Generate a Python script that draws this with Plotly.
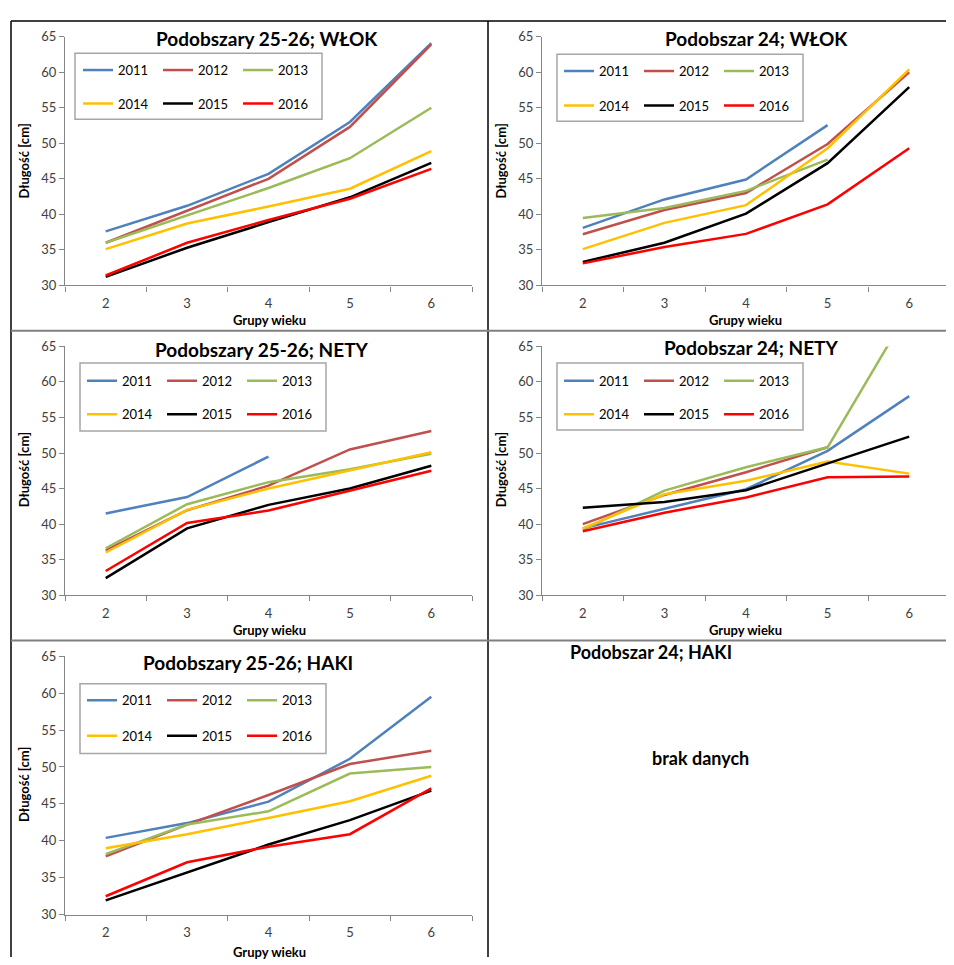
import plotly.graph_objects as go

# ---------------- data ----------------
age_groups = [2, 3, 4, 5, 6]
years = ["2011", "2012", "2013", "2014", "2015", "2016"]
year_colors = ["#4F81BD", "#C0504D", "#9BBB59", "#FFC000", "#000000", "#FF0000"]

# Podobszary 25-26; WŁOK
wlok_2526_2011 = [37.6, 41.2, 45.7, 53.0, 64.1]
wlok_2526_2012 = [36.0, 40.5, 45.0, 52.3, 63.9]
wlok_2526_2013 = [36.0, 39.9, 43.7, 47.9, 55.0]
wlok_2526_2014 = [35.1, 38.7, 41.1, 43.6, 48.9]
wlok_2526_2015 = [31.2, 35.3, 38.9, 42.4, 47.25]
wlok_2526_2016 = [31.4, 36.0, 39.2, 42.2, 46.4]

# Podobszar 24; WŁOK
wlok_24_2011 = [38.1, 42.1, 44.9, 52.55, None]
wlok_24_2012 = [37.2, 40.6, 43.0, 49.9, 60.0]
wlok_24_2013 = [39.5, 40.9, 43.3, 47.7, None]
wlok_24_2014 = [35.1, 38.8, 41.3, 49.3, 60.4]
wlok_24_2015 = [33.3, 36.0, 40.1, 47.2, 57.9]
wlok_24_2016 = [33.1, 35.4, 37.25, 41.4, 49.3]

# Podobszary 25-26; NETY
nety_2526_2011 = [41.5, 43.8, 49.5, None, None]
nety_2526_2012 = [36.3, 41.95, 45.4, 50.5, 53.1]
nety_2526_2013 = [36.6, 42.8, 45.9, 47.7, 49.9]
nety_2526_2014 = [36.0, 42.0, 45.0, 47.6, 50.1]
nety_2526_2015 = [32.4, 39.4, 42.7, 45.0, 48.2]
nety_2526_2016 = [33.4, 40.15, 41.9, 44.7, 47.5]

# Podobszar 24; NETY
nety_24_2011 = [39.4, 42.2, 44.9, 50.3, 58.0]
nety_24_2012 = [40.0, 44.1, 47.3, 50.8, None]
nety_24_2013 = [39.2, 44.7, 48.0, 50.8, 70.2]
nety_24_2014 = [39.4, 44.2, 46.1, 48.8, 47.1]
nety_24_2015 = [42.3, 43.1, 44.75, 48.5, 52.3]
nety_24_2016 = [39.0, 41.6, 43.75, 46.6, 46.7]

# Podobszary 25-26; HAKI
haki_2526_2011 = [40.4, 42.4, 45.3, 51.1, 59.5]
haki_2526_2012 = [37.9, 42.2, 46.2, 50.4, 52.2]
haki_2526_2013 = [38.2, 42.2, 44.0, 49.1, 50.0]
haki_2526_2014 = [39.0, 40.9, 43.1, 45.35, 48.8]
haki_2526_2015 = [31.95, 35.7, 39.5, 42.8, 46.8]
haki_2526_2016 = [32.5, 37.1, 39.2, 40.9, 47.1]

panel_titles = ["Podobszary 25-26; WŁOK", "Podobszar 24; WŁOK",
                "Podobszary 25-26; NETY", "Podobszar 24; NETY",
                "Podobszary 25-26; HAKI"]
panel_series = [
    [wlok_2526_2011, wlok_2526_2012, wlok_2526_2013, wlok_2526_2014, wlok_2526_2015, wlok_2526_2016],
    [wlok_24_2011, wlok_24_2012, wlok_24_2013, wlok_24_2014, wlok_24_2015, wlok_24_2016],
    [nety_2526_2011, nety_2526_2012, nety_2526_2013, nety_2526_2014, nety_2526_2015, nety_2526_2016],
    [nety_24_2011, nety_24_2012, nety_24_2013, nety_24_2014, nety_24_2015, nety_24_2016],
    [haki_2526_2011, haki_2526_2012, haki_2526_2013, haki_2526_2014, haki_2526_2015, haki_2526_2016],
]
empty_title = "Podobszar 24; HAKI"
empty_text = "brak danych"
x_title = "Grupy wieku"
y_title = "Długość [cm]"

# ---------------- layout geometry (page pixels) ----------------
PAGE_OFF = 8            # default body margin of the html page
W, H = 954 - PAGE_OFF, 965 - PAGE_OFF   # figure reaches the window edges
FONT = "Lato, 'Open Sans', sans-serif"


def fx(p):
    return (p - PAGE_OFF) / W


def fy(p):
    return 1 - (p - PAGE_OFF) / H


# plot areas: (x0, x1, ytop, ybottom)
areas = [(65, 472, 29, 282), (542, 950, 29, 282),
         (65, 472, 344, 597), (542, 950, 344, 597),
         (65, 472, 659, 922)]
title_pos = [(267, 31), (756, 31), (262, 347), (751, 345), (248, 666)]
xtitle_pos = [(269, 317), (745, 317), (269, 632), (745, 632), (269, 960)]
ytitle_pos = [(24, 156), (501, 156), (24, 470), (501, 470), (24, 790)]
legend_box = [(75, 322, 46, 113), (557, 803, 47, 115),
              (80, 326, 361, 430), (557, 803, 361, 429),
              (80, 326, 687, 758)]
legend_rows = [(63, 97), (64, 99), (379, 413), (379, 413), (704, 740)]
legend_x0 = [78, 559, 82, 559, 82]

fig = go.Figure()
annotations = []
shapes = []
layout_extra = {}

axis_gray = "#868686"
tick_font = dict(family=FONT, size=13, color="#404040")

for i in range(5):
    x0, x1, yt, yb = areas[i]
    xa = "xaxis" if i == 0 else f"xaxis{i+1}"
    ya = "yaxis" if i == 0 else f"yaxis{i+1}"
    xr = "x" if i == 0 else f"x{i+1}"
    yr = "y" if i == 0 else f"y{i+1}"
    leg_a = "legend" if i == 0 else f"legend{2*i+1}"
    leg_b = f"legend{2*i+2}"

    for k, (yr_name, col) in enumerate(zip(years, year_colors)):
        fig.add_trace(go.Scatter(
            x=age_groups, y=panel_series[i][k], mode="lines", name=yr_name,
            line=dict(color=col, width=2.5), xaxis=xr, yaxis=yr,
            legend=leg_a if k < 3 else leg_b, hoverinfo="x+y+name"))

    layout_extra[xa] = dict(
        domain=[fx(x0), min(fx(x1), 1)], anchor=yr, range=[1.5, 6.5],
        tickmode="array", tickvals=age_groups, ticktext=[str(a) for a in age_groups],
        ticks="outside", ticklen=6, tickcolor="rgba(0,0,0,0)",
        minor=dict(tickmode="array", tickvals=[1.5, 2.5, 3.5, 4.5, 5.5, 6.5],
                   ticks="outside", ticklen=5, tickcolor=axis_gray, tickwidth=1.2),
        showline=True, linecolor=axis_gray, linewidth=1.2, showgrid=False,
        zeroline=False, tickfont=tick_font, fixedrange=True)
    layout_extra[ya] = dict(
        domain=[fy(yb), fy(yt)], anchor=xr, range=[30, 65],
        tickmode="array", tickvals=[30, 35, 40, 45, 50, 55, 60, 65],
        ticks="outside", ticklen=5, tickcolor=axis_gray, tickwidth=1.2,
        showline=True, linecolor=axis_gray, linewidth=1.2, showgrid=False,
        zeroline=False, tickfont=tick_font, fixedrange=True)

    # legends (two rows of three)
    for leg, rowy in ((leg_a, legend_rows[i][0]), (leg_b, legend_rows[i][1])):
        layout_extra[leg] = dict(
            orientation="h", x=fx(legend_x0[i]), xanchor="left",
            y=fy(rowy), yanchor="middle", bgcolor="rgba(0,0,0,0)",
            borderwidth=0, font=dict(family=FONT, size=13, color="#000000"),
            itemwidth=30, entrywidth=35, entrywidthmode="pixels",
            traceorder="normal")

    bx0, bx1, by0, by1 = legend_box[i]
    shapes.append(dict(type="rect", xref="paper", yref="paper",
                       x0=fx(bx0), x1=fx(bx1), y0=fy(by1), y1=fy(by0),
                       line=dict(color="#A6A6A6", width=1.5), fillcolor="rgba(0,0,0,0)"))

    tx, ty = title_pos[i]
    annotations.append(dict(text=f"<b>{panel_titles[i]}</b>", x=fx(tx), y=fy(ty),
                            xref="paper", yref="paper", showarrow=False,
                            xanchor="center", yanchor="middle",
                            font=dict(family=FONT, size=19, color="#000000")))
    gx, gy = xtitle_pos[i]
    annotations.append(dict(text=f"<b>{x_title}</b>", x=fx(gx), y=fy(gy),
                            xref="paper", yref="paper", showarrow=False,
                            xanchor="center", yanchor="middle",
                            font=dict(family=FONT, size=13, color="#000000")))
    dx, dy = ytitle_pos[i]
    annotations.append(dict(text=f"<b>{y_title}</b>", x=fx(dx), y=fy(dy),
                            xref="paper", yref="paper", showarrow=False, textangle=-90,
                            xanchor="center", yanchor="middle",
                            font=dict(family=FONT, size=13, color="#000000")))

# empty panel
annotations.append(dict(text=f"<b>{empty_title}</b>", x=fx(734), y=fy(668),
                        xref="paper", yref="paper", showarrow=False,
                        font=dict(family=FONT, size=18, color="#000000")))
annotations.append(dict(text=f"<b>{empty_text}</b>", x=fx(751), y=fy(776),
                        xref="paper", yref="paper", showarrow=False,
                        font=dict(family=FONT, size=18, color="#000000")))

# page grid lines
shapes += [
    dict(type="line", xref="paper", yref="paper", x0=fx(11), x1=1, y0=fy(13), y1=fy(13),
         line=dict(color="#000000", width=1.5)),
    dict(type="line", xref="paper", yref="paper", x0=fx(11), x1=fx(11), y0=0, y1=fy(13),
         line=dict(color="#000000", width=1.5)),
    dict(type="line", xref="paper", yref="paper", x0=fx(488), x1=fx(488), y0=0, y1=fy(13),
         line=dict(color="#000000", width=1.5)),
    dict(type="line", xref="paper", yref="paper", x0=fx(11), x1=1, y0=fy(328), y1=fy(328),
         line=dict(color="#808080", width=2)),
    dict(type="line", xref="paper", yref="paper", x0=fx(11), x1=1, y0=fy(643), y1=fy(643),
         line=dict(color="#808080", width=2)),
]

fig.update_layout(
    width=W, height=H, margin=dict(l=0, r=0, t=0, b=0),
    paper_bgcolor="white", plot_bgcolor="white",
    font=dict(family=FONT, color="#000000"),
    annotations=annotations, shapes=shapes, showlegend=True,
    **layout_extra)

fig.write_html("out.html")
